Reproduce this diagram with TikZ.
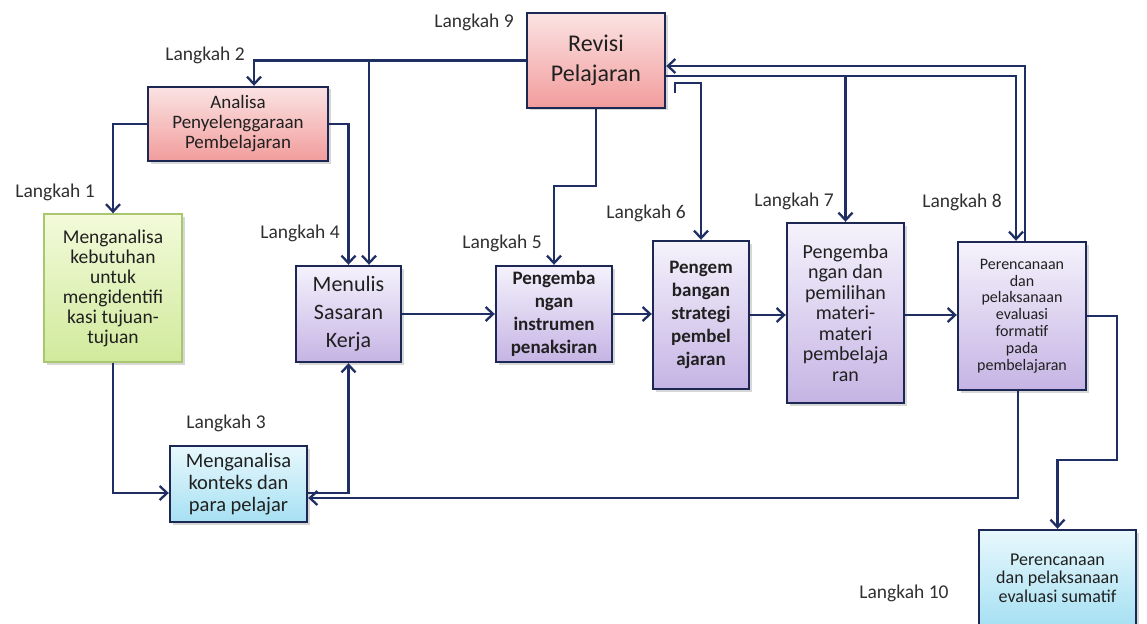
\documentclass[tikz,border=0pt]{standalone}
\usepackage{fontspec}
\setmainfont{Carlito}
\usetikzlibrary{arrows.meta,calc,shadows}
\definecolor{ln}{HTML}{1F2F63}
\definecolor{bd}{HTML}{1C2754}
\definecolor{txt}{HTML}{202020}
\definecolor{lbl}{HTML}{303030}
\definecolor{pinktop}{HTML}{FBE3E3}
\definecolor{pinkbot}{HTML}{F29C9C}
\definecolor{greentop}{HTML}{F3FADA}
\definecolor{greenbot}{HTML}{D0EA9C}
\definecolor{greenbd}{HTML}{A9C76E}
\definecolor{purtop}{HTML}{F5F2FC}
\definecolor{purbot}{HTML}{C5B4E4}
\definecolor{cyantop}{HTML}{E8F8FD}
\definecolor{cyanbot}{HTML}{A6E0F2}
\tikzset{
  box/.style={draw=bd, line width=2.4pt, inner sep=0pt, align=center, text=txt,
    drop shadow={shadow xshift=2.5pt, shadow yshift=-2.5pt, fill=black!35, opacity=0.45}},
  pinkbox/.style={box, top color=pinktop, bottom color=pinkbot},
  greenbox/.style={box, draw=greenbd, line width=1.4pt, top color=greentop, bottom color=greenbot},
  purbox/.style={box, top color=purtop, bottom color=purbot},
  cyanbox/.style={box, top color=cyantop, bottom color=cyanbot},
  conn/.style={draw=ln, line width=2.3pt},
  arr/.style={conn, -{Straight Barb[length=7.5pt,width=14pt]}},
  lab/.style={text=lbl, font=\fontsize{19.5}{21}\selectfont, inner sep=0pt}
}
\begin{document}
\begin{tikzpicture}[x=1pt,y=-1pt]
\useasboundingbox (0,0) rectangle (1147,623);

% boxes
\node[pinkbox, minimum width=138pt, minimum height=95pt, font=\fontsize{24}{30}\selectfont] (rev) at (596,60.5) {Revisi\\Pelajaran};
\node[pinkbox, minimum width=180pt, minimum height=74pt, font=\fontsize{19}{20}\selectfont] (ana) at (238,124) {Analisa\\Penyelenggaraan\\Pembelajaran};
\node[greenbox, minimum width=138pt, minimum height=148pt, font=\fontsize{19.5}{20}\selectfont] (keb) at (113,288) {Menganalisa\\kebutuhan\\untuk\\mengidentifi\\kasi tujuan-\\tujuan};
\node[purbox, minimum width=105pt, minimum height=96pt, font=\fontsize{22}{28}\selectfont] (men) at (348.5,314) {Menulis\\Sasaran\\Kerja};
\node[cyanbox, minimum width=137pt, minimum height=76pt, font=\fontsize{20.5}{22}\selectfont] (kon) at (238.5,484) {Menganalisa\\konteks dan\\para pelajar};
\node[purbox, minimum width=116pt, minimum height=96pt, font=\bfseries\fontsize{19}{23}\selectfont] (ins) at (554,314) {Pengemba\\ngan\\instrumen\\penaksiran};
\node[purbox, minimum width=96pt, minimum height=148pt, font=\bfseries\fontsize{19}{23}\selectfont] (str) at (701,315) {Pengem\\bangan\\strategi\\pembel\\ajaran};
\node[purbox, minimum width=117pt, minimum height=180pt, font=\fontsize{20}{20.5}\selectfont] (pem) at (845.5,313) {Pengemba\\ngan dan\\pemilihan\\materi-\\materi\\pembelaja\\ran};
\node[purbox, minimum width=128pt, minimum height=148pt, font=\fontsize{16}{16.8}\selectfont] (for) at (1022,316) {Perencanaan\\dan\\pelaksanaan\\evaluasi\\formatif\\pada\\pembelajaran};
\node[cyanbox, minimum width=157pt, minimum height=96pt, font=\fontsize{18}{18.5}\selectfont] (sum) at (1057.5,578) {Perencanaan\\dan pelaksanaan\\evaluasi sumatif};

% labels
\node[lab] (l9) at (474,22) {Langkah 9};
\node[lab] (l2) at (205,55) {Langkah 2};
\node[lab] (l1) at (55,192) {Langkah 1};
\node[lab] (l4) at (300,233) {Langkah 4};
\node[lab] (l3) at (226,423) {Langkah 3};
\node[lab] (l5) at (502,243) {Langkah 5};
\node[lab] (l6) at (646,213) {Langkah 6};
\node[lab] (l7) at (794,201) {Langkah 7};
\node[lab] (l8) at (962,202) {Langkah 8};
\node[lab] (l10) at (904,593) {Langkah 10};

% helper coordinates
\coordinate (rA) at ($(rev.east)+(0,5.5)$);
\coordinate (rB) at ($(rev.east)+(0,15.5)$);
\coordinate (br) at (675,93);
\coordinate (bend) at (1117,460);
\coordinate (pe) at ($(pem.east)+(0,2)$);
\coordinate (konA) at ($(kon.east)+(0,9)$);
\coordinate (konB) at ($(kon.east)+(0,14)$);
\coordinate (konW) at ($(kon.west)+(0,9)$);
\coordinate (forS) at ($(for.south)+(-4,0)$);
\coordinate (forN1) at ($(for.north)+(3,0)$);
\coordinate (forN2) at ($(for.north)+(-6,0)$);

% connectors
\draw[arr] (rev.west) -| ([xshift=16pt]ana.north);
\draw[arr] (rev.west) -| ([xshift=20.5pt]men.north);
\draw[arr] (ana.east) -| (men.north);
\draw[arr] (ana.west) -| (keb.north);
\draw[arr] (keb.south) |- (konW);
\draw[arr] (konA) -| (men.south);
\draw[arr] (forS) |- (konB);
\draw[arr] (men.east) -- (ins.west);
\draw[arr] (ins.east) -- (ins.east -| str.west);
\draw[arr] (str.east) -- (str.east -| pem.west);
\draw[arr] (pe) -- (pe -| for.west);
\draw[arr] (for.east) -| (bend) -| (sum.north);
\draw[arr] (forN1) |- (rA);
\draw[arr] (rB) -| (forN2);
\draw[arr] (pem.north |- rB) -- (pem.north);
\draw[arr] (br) -- ++(0,-10) -| (str.north);
\draw[arr] (rev.south) -- ++(0,77) -| (ins.north);
\end{tikzpicture}
\end{document}
